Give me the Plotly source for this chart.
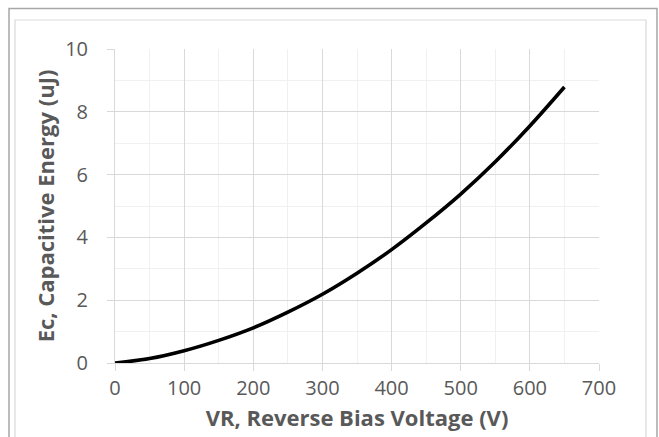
import plotly.graph_objects as go

voltage_v = [0, 50, 100, 150, 200, 250, 300, 350, 400, 450, 500, 550, 600, 650]
energy_uj = [0, 0.14, 0.39, 0.72, 1.12, 1.62, 2.19, 2.86, 3.61, 4.46, 5.38, 6.41, 7.55, 8.79]

x_title = "VR, Reverse Bias Voltage (V)"
y_title = "Ec, Capacitive Energy (uJ)"

W, H = 659, 437
L, R, T, B = 115, 599, 49, 363

fig = go.Figure()
fig.add_trace(go.Scatter(x=voltage_v, y=energy_uj, mode="lines",
                         line=dict(color="black", width=3.6, shape="spline"),
                         showlegend=False, hoverinfo="skip"))

FONT = "Open Sans"
TXT = "#595959"
GRID = "#d9d9d9"
MINOR = "#f0f0f0"

fig.update_layout(
    width=W, height=H,
    margin=dict(l=L, r=W - R, t=T, b=H - B),
    paper_bgcolor="white", plot_bgcolor="white",
    font=dict(family=FONT, color=TXT),
)
fig.update_xaxes(
    range=[0, 700], tickvals=[0, 100, 200, 300, 400, 500, 600, 700],
    showgrid=True, gridcolor=GRID, gridwidth=1,
    minor=dict(dtick=50, tick0=0, showgrid=True, gridcolor=MINOR, gridwidth=1),
    ticks="outside", ticklen=7, tickcolor=GRID, tickwidth=1,
    showline=True, linecolor=GRID, linewidth=1,
    zeroline=False, tickfont=dict(size=20, color=TXT),
    automargin=False,
    title=dict(text="<b>" + x_title + "</b>", font=dict(size=22, color=TXT), standoff=10),
)
fig.update_yaxes(
    range=[0, 10], tickvals=[0, 2, 4, 6, 8, 10],
    showgrid=True, gridcolor=GRID, gridwidth=1,
    minor=dict(dtick=1, tick0=0, showgrid=True, gridcolor=MINOR, gridwidth=1),
    ticks="outside", ticklen=7, tickcolor=GRID, tickwidth=1,
    showline=True, linecolor=GRID, linewidth=1,
    zeroline=False, tickfont=dict(size=20, color=TXT),
    ticklabelstandoff=15, automargin=False,
    title=dict(text="<b>" + y_title + "</b>", font=dict(size=22, color=TXT), standoff=4),
)

def px_x(p):
    return (p - L) / (R - L)

def px_y(p):
    return (B - p) / (B - T)

# outer and inner chart borders
fig.add_shape(type="rect", xref="paper", yref="paper",
              x0=px_x(9), x1=px_x(657), y0=px_y(460), y1=px_y(8.5),
              line=dict(color="#a6a6a6", width=1.5), layer="below")
fig.add_shape(type="rect", xref="paper", yref="paper",
              x0=px_x(15), x1=px_x(646), y0=px_y(450), y1=px_y(20),
              line=dict(color="#d9d9d9", width=1.2), layer="below")

fig.write_html("out.html", config={"displayModeBar": False},
               post_script="document.body.style.margin='0px';")
